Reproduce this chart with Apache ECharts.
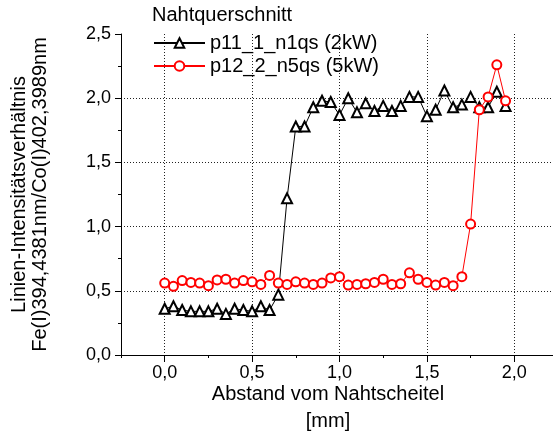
<!DOCTYPE html>
<html>
<head>
<meta charset="utf-8">
<script src="https://cdn.jsdelivr.net/npm/echarts@6/dist/echarts.min.js"></script>
<style>
  html, body { margin: 0; padding: 0; background: #fff; }
  #chart { width: 553px; height: 438px; }
</style>
</head>
<body>
<div id="chart"></div>
<script>
// Abstand vom Nahtscheitel [mm]
var abstand = [0, 0.05, 0.1, 0.15, 0.2, 0.25, 0.3, 0.35, 0.4, 0.45,
               0.5, 0.55, 0.6, 0.65, 0.7, 0.75, 0.8, 0.85, 0.9, 0.95,
               1.0, 1.05, 1.1, 1.15, 1.2, 1.25, 1.3, 1.35, 1.4, 1.45,
               1.5, 1.55, 1.6, 1.65, 1.7, 1.75, 1.8, 1.85, 1.9, 1.95];

// p11_1_n1qs (2kW)
var n1qs = [0.36, 0.38, 0.35, 0.34, 0.34, 0.34, 0.36, 0.32, 0.36, 0.35,
            0.34, 0.38, 0.35, 0.47, 1.22, 1.78, 1.78, 1.93, 1.98, 1.97,
            1.87, 2.00, 1.89, 1.96, 1.90, 1.94, 1.90, 1.94, 2.01, 2.01,
            1.86, 1.91, 2.06, 1.93, 1.95, 2.01, 1.93, 1.93, 2.05, 1.94];

// p12_2_n5qs (5kW)
var n5qs = [0.56, 0.535, 0.58, 0.565, 0.56, 0.54, 0.585, 0.59, 0.56, 0.58,
            0.57, 0.55, 0.62, 0.56, 0.55, 0.57, 0.56, 0.55, 0.56, 0.60,
            0.61, 0.545, 0.55, 0.555, 0.565, 0.59, 0.55, 0.555, 0.64, 0.59,
            0.565, 0.545, 0.565, 0.54, 0.61, 1.02, 1.91, 2.01, 2.26, 1.98];

var xMajor = [0, 0.5, 1.0, 1.5, 2.0];

function paare(ys) {
    return abstand.map(function (x, i) { return [x, ys[i]]; });
}
function komma(v) {
    return v.toFixed(1).replace('.', ',');
}

var schrift = '"Liberation Sans", Arial, Helvetica, sans-serif';

var chart = echarts.init(document.getElementById('chart'));

var opt = {
    animation: false,
    textStyle: { fontFamily: schrift, color: '#000' },
    title: {
        text: 'Nahtquerschnitt',
        left: 152,
        top: 5,
        padding: 0,
        textStyle: { fontFamily: schrift, fontSize: 20, fontWeight: 'normal', color: '#000' }
    },
    legend: {
        orient: 'vertical',
        left: 153,
        top: 33,
        padding: 0,
        itemGap: 3,
        itemWidth: 51,
        itemHeight: 12,
        textStyle: { fontFamily: schrift, fontSize: 20, color: '#000', lineHeight: 20 },
        data: ['p11_1_n1qs (2kW)', 'p12_2_n5qs (5kW)']
    },
    grid: {
        left: 121,
        right: -5,
        top: 34,
        bottom: 83,
        containLabel: false,
        outerBoundsMode: 'none'
    },
    xAxis: [{
        type: 'value',
        min: -0.25,
        max: 2.25,
        position: 'bottom',
        name: 'Abstand vom Nahtscheitel\n[mm]',
        nameLocation: 'middle',
        nameGap: 26,
        nameMoveOverlap: false,
        nameTextStyle: { fontFamily: schrift, fontSize: 20, color: '#000', lineHeight: 27, padding: [0, 23, 0, 0] },
        axisLine: { show: true, onZero: false, lineStyle: { color: '#000', width: 1 } },
        axisTick: { show: true, inside: false, length: 7, customValues: xMajor, lineStyle: { color: '#000' } },
        axisLabel: {
            show: true, margin: 9, fontSize: 18, color: '#000', fontFamily: schrift,
            customValues: xMajor,
            formatter: komma
        },
        splitLine: { show: true, lineStyle: { color: '#222', type: [1, 2], width: 1 } }
    }, {
        type: 'value',
        min: -0.25,
        max: 2.25,
        interval: 0.25,
        position: 'bottom',
        axisLine: { show: false },
        axisTick: { show: true, inside: false, length: 3, lineStyle: { color: '#000' } },
        axisLabel: { show: false },
        splitLine: { show: false }
    }],
    yAxis: {
        type: 'value',
        min: 0,
        max: 2.5,
        interval: 0.5,
        name: 'Linien-Intensitätsverhältnis\nFe(I)394,4381nm/Co(I)402,3989nm',
        nameLocation: 'middle',
        nameRotate: 90,
        nameGap: 70,
        nameMoveOverlap: false,
        nameTextStyle: { fontFamily: schrift, fontSize: 20, color: '#000', lineHeight: 21 },
        axisLine: { show: true, onZero: false, lineStyle: { color: '#000', width: 1 } },
        axisTick: { show: true, inside: false, length: 6, lineStyle: { color: '#000' } },
        minorTick: { show: true, splitNumber: 2, length: 3, lineStyle: { color: '#000' } },
        axisLabel: { margin: 10, fontSize: 18, color: '#000', fontFamily: schrift, formatter: komma },
        splitLine: {
            show: true, showMinLine: false, showMaxLine: false,
            lineStyle: { color: '#222', type: [1, 2], width: 1 }
        }
    },
    series: [{
        name: 'p11_1_n1qs (2kW)',
        type: 'line',
        xAxisIndex: 0,
        data: paare(n1qs),
        symbol: 'emptyTriangle',
        symbolSize: 10,
        color: '#000',
        lineStyle: { color: '#000', width: 1 },
        itemStyle: { color: '#000', borderColor: '#000', borderWidth: 1 }
    }, {
        name: 'p12_2_n5qs (5kW)',
        type: 'line',
        xAxisIndex: 0,
        data: paare(n5qs),
        symbol: 'emptyCircle',
        symbolSize: 9,
        color: '#ff0000',
        lineStyle: { color: '#ff0000', width: 1 },
        itemStyle: { color: '#ff0000', borderColor: '#ff0000', borderWidth: 1 }
    }]
};

chart.setOption(opt);
</script>
</body>
</html>
